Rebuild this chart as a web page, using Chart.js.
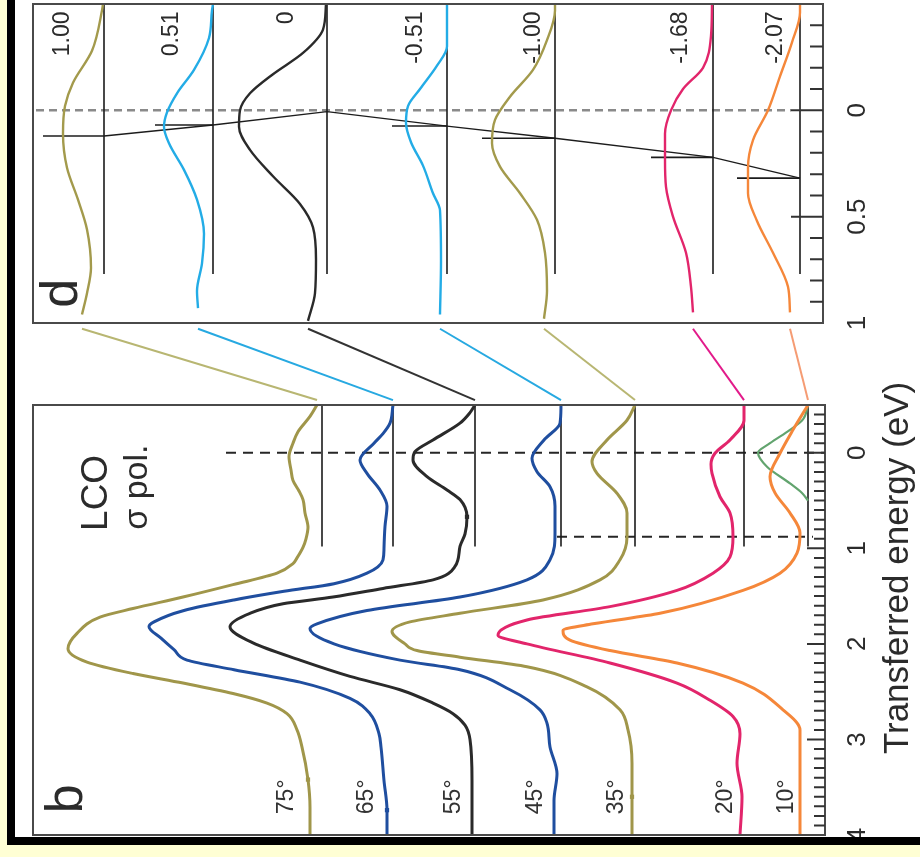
<!DOCTYPE html>
<html>
<head>
<meta charset="utf-8">
<script src="https://cdn.jsdelivr.net/npm/chart.js@4.4.1/dist/chart.umd.min.js"></script>
<style>
  html, body { margin: 0; padding: 0; background: #ffffff; }
  canvas { display: block; }
</style>
</head>
<body>
<canvas id="c" width="920" height="857"></canvas>
<script>
// RIXS spectra of LCO (sigma polarisation). Energy runs down the page,
// intensity grows to the left; every spectrum sits on its own baseline.

// ---- Panel b: incidence angles, baseline offsets (a.u.), spectra [energy eV, intensity a.u.]
const anglesB  = ['75°', '65°', '55°', '45°', '35°', '20°', '10°'];
const offsetsB = [5.03, 4.32, 3.50, 2.64, 1.90, 0.81, 0.17];

const b75 = [[-0.5,0.05],[-0.38,0.12],[-0.22,0.24],[-0.1,0.29],[0.04,0.33],[0.18,0.31],[0.29,0.29],[0.4,0.23],[0.49,0.19],[0.63,0.17],[0.78,0.14],[0.9,0.16],[0.99,0.19],[1.1,0.25],[1.16,0.29],[1.26,0.45],[1.38,0.89],[1.51,1.39],[1.63,1.89],[1.72,2.22],[1.89,2.45],[2.05,2.54],[2.19,2.35],[2.31,1.89],[2.41,1.39],[2.52,0.89],[2.62,0.55],[2.73,0.35],[2.9,0.25],[3.08,0.2],[3.42,0.14],[3.71,0.12],[4.0,0.12]];
const b65 = [[-0.5,0],[-0.31,0.03],[-0.2,0.1],[-0.1,0.19],[0.075,0.33],[0.215,0.26],[0.39,0.13],[0.56,0.06],[0.77,0.08],[1.0,0.09],[1.12,0.1],[1.26,0.26],[1.37,0.59],[1.45,1.09],[1.54,1.59],[1.65,2.09],[1.77,2.39],[1.82,2.44],[1.94,2.32],[2.06,2.19],[2.17,2.06],[2.27,1.59],[2.4,0.93],[2.57,0.43],[2.73,0.23],[2.94,0.14],[3.08,0.12],[3.43,0.09],[3.74,0.06],[4.0,0.06]];
const b55 = [[-0.5,0],[-0.42,0.05],[-0.31,0.15],[-0.134,0.42],[-0.012,0.6],[0.075,0.62],[0.25,0.48],[0.39,0.28],[0.49,0.15],[0.67,0.08],[0.85,0.1],[0.98,0.15],[1.19,0.2],[1.33,0.42],[1.42,0.92],[1.51,1.42],[1.58,1.92],[1.68,2.25],[1.82,2.45],[1.99,2.22],[2.17,1.75],[2.34,1.25],[2.48,0.75],[2.62,0.42],[2.73,0.22],[2.85,0.1],[3.0,0.05],[3.43,0.03],[3.77,0.03],[4.0,0.03]];
const b45 = [[-0.5,0],[-0.31,0.01],[-0.134,0.17],[0.058,0.29],[0.198,0.24],[0.355,0.11],[0.56,0.06],[0.84,0.06],[1.12,0.11],[1.33,0.34],[1.51,1.01],[1.65,1.94],[1.79,2.44],[1.84,2.51],[2.0,2.27],[2.17,1.61],[2.27,1.01],[2.48,0.51],[2.69,0.21],[2.83,0.14],[3.08,0.11],[3.36,0.04],[3.64,0.07],[4.0,0.07]];
const b35 = [[-0.5,0],[-0.34,0.08],[-0.134,0.28],[0.093,0.43],[0.215,0.38],[0.424,0.18],[0.63,0.08],[0.88,0.08],[1.12,0.15],[1.33,0.35],[1.54,0.92],[1.68,1.75],[1.77,2.25],[1.87,2.43],[2.0,2.3],[2.07,2.18],[2.14,1.75],[2.24,1.08],[2.45,0.48],[2.69,0.15],[2.9,0.07],[3.25,0.03],[3.6,0.03],[4.0,0.03]];
const b20 = [[-0.5,0],[-0.34,0],[-0.134,0.14],[0.005,0.29],[0.12,0.33],[0.215,0.32],[0.46,0.24],[0.63,0.14],[0.88,0.11],[1.09,0.14],[1.26,0.31],[1.44,0.67],[1.61,1.34],[1.75,2.17],[1.91,2.46],[2.0,2.17],[2.2,1.34],[2.41,0.67],[2.59,0.34],[2.76,0.11],[2.94,0.04],[3.25,0.07],[3.6,0.02],[4.0,0.04]];
const b10 = [[-0.5,0],[-0.24,0.15],[0.005,0.28],[0.25,0.38],[0.42,0.33],[0.63,0.18],[0.84,0.08],[1.05,0.11],[1.26,0.28],[1.44,0.65],[1.68,1.48],[1.79,2.15],[1.86,2.45],[1.96,2.38],[2.07,1.98],[2.2,1.31],[2.41,0.65],[2.69,0.25],[2.9,0.08],[3.25,0.08],[4.0,0.08]];
const b10elastic = [[-0.5,0],[-0.35,0.05],[-0.24,0.18],[-0.1,0.38],[0.0,0.5],[0.146,0.41],[0.32,0.18],[0.42,0.06],[0.5,0]];

// energy of the sample drawn with a square marker on some spectra
const markedB = [3.42, 3.74, 0.67, null, 3.6, null, null];

// ---- Panel d: momentum transfer, baseline offsets (a.u.), low-energy spectra
const qLabels  = ['1.00', '0.51', '0', '-0.51', '-1.00', '-1.68', '-2.07'];
const offsetsD = [7.21, 6.12, 4.98, 3.78, 2.70, 1.12, 0.25];

const dQ100  = [[-0.5,0.01],[-0.47,0.02],[-0.28,0.12],[-0.13,0.31],[-0.02,0.39],[0.11,0.41],[0.27,0.37],[0.42,0.26],[0.56,0.17],[0.74,0.13],[0.86,0.17],[0.96,0.22]];
const dQ051  = [[-0.5,0],[-0.47,0.01],[-0.34,0.04],[-0.19,0.19],[-0.08,0.36],[0.01,0.46],[0.077,0.49],[0.155,0.44],[0.28,0.29],[0.42,0.16],[0.58,0.09],[0.72,0.11],[0.85,0.16],[0.93,0.15]];
const dQ0    = [[-0.5,0.01],[-0.38,0.04],[-0.27,0.24],[-0.17,0.54],[-0.08,0.77],[0.0,0.87],[0.077,0.88],[0.186,0.77],[0.31,0.54],[0.44,0.27],[0.55,0.14],[0.7,0.11],[0.86,0.12],[0.99,0.19]];
const dQm051 = [[-0.5,0],[-0.3,0],[-0.21,0.1],[-0.1,0.27],[-0.02,0.39],[0.06,0.41],[0.15,0.36],[0.26,0.24],[0.39,0.14],[0.47,0.07],[0.71,0.06],[0.96,0.07]];
const dQm100 = [[-0.5,0],[-0.47,0],[-0.33,0.08],[-0.19,0.22],[-0.064,0.45],[0.045,0.6],[0.155,0.63],[0.265,0.55],[0.39,0.35],[0.515,0.18],[0.67,0.1],[0.85,0.08],[0.98,0.11]];
const dQm168 = [[-0.5,0.01],[-0.35,0.02],[-0.2,0.1],[-0.1,0.3],[0.0,0.42],[0.11,0.48],[0.23,0.48],[0.36,0.47],[0.5,0.4],[0.67,0.27],[0.83,0.22],[0.95,0.2]];
const dQm207 = [[-0.5,0],[-0.46,0],[-0.32,0.08],[-0.16,0.2],[0.0,0.32],[0.14,0.47],[0.27,0.52],[0.39,0.52],[0.52,0.43],[0.67,0.27],[0.83,0.12],[0.95,0.1]];

// fitted peak energy (eV) for each q and the length of its marker (a.u.)
const peakEnergy = [0.121, 0.069, 0.006, 0.074, 0.131, 0.221, 0.319];
const peakMarkLen = [0.61, 0.58, 0, 0.55, 0.73, 0.62, 0.63];

// axis labels
const tickLabelsB = ['0', '1', '2', '3', '4'];
const tickLabelsD = ['0', '0.5', '1'];

// ---- styling
const colorsB = ['#a0964a', '#1f4e9f', '#2a2a2a', '#1f4e9f', '#a0964a', '#e2256b', '#f5873a'];
const colorsD = ['#a39a4c', '#23ace6', '#2a2a2a', '#23ace6', '#a39a4c', '#e2256b', '#f5873a'];
const colorsLink = ['#b8b672', '#27a9e1', '#333333', '#27a9e1', '#b8b672', '#e21a8a', '#f59c74'];
const elasticColor = '#62a46e';

const spectraB = [b75, b65, b55, b45, b35, b20, b10];
const spectraD = [dQ100, dQ051, dQ0, dQm051, dQm100, dQm168, dQm207];

const toPts = (spec, off) => spec.map(([e, i]) => ({ x: off + i, y: e }));
const line = (data, axis, color, width, extra) => Object.assign({
  data, yAxisID: axis, borderColor: color, borderWidth: width,
  showLine: true, pointRadius: 0, tension: 0, fill: false
}, extra || {});
const smooth = { cubicInterpolationMode: 'monotone' };

const datasets = [];

// panel b spectra
spectraB.forEach((s, k) => datasets.push(line(toPts(s, offsetsB[k]), 'yb', colorsB[k], 3, Object.assign({
  pointStyle: 'rect',
  pointBackgroundColor: colorsB[k],
  pointBorderWidth: 0,
  pointRadius: c => (markedB[k] !== null && c.raw && c.raw.y === markedB[k]) ? 3 : 0
}, smooth))));
datasets.push(line(toPts(b10elastic, offsetsB[6]), 'yb', elasticColor, 2.2, smooth));
// panel b baselines
offsetsB.forEach(o => datasets.push(line([{ x: o, y: -0.5 }, { x: o, y: 0.98 }], 'yb', '#1c1c1c', 1.6)));
// panel b reference lines (E = 0 and the gap edge)
datasets.push(line([{ x: 5.99, y: 0 }, { x: 0, y: 0 }], 'yb', '#262626', 2, { borderDash: [10, 7] }));
datasets.push(line([{ x: 2.68, y: 0.88 }, { x: 0.12, y: 0.88 }], 'yb', '#262626', 2, { borderDash: [10, 7] }));

// panel d spectra
spectraD.forEach((s, k) => datasets.push(line(toPts(s, offsetsD[k]), 'yd', colorsD[k], 2.4, smooth)));
// panel d baselines
offsetsD.forEach(o => datasets.push(line([{ x: o, y: -0.5 }, { x: o, y: 0.77 }], 'yd', '#1c1c1c', 1.6)));
// peak markers and dispersion
offsetsD.forEach((o, k) => {
  if (peakMarkLen[k] > 0) {
    datasets.push(line([{ x: o, y: peakEnergy[k] }, { x: o + peakMarkLen[k], y: peakEnergy[k] }], 'yd', '#1c1c1c', 1.6));
  }
});
datasets.push(line(offsetsD.map((o, k) => ({ x: o, y: peakEnergy[k] })), 'yd', '#1c1c1c', 1.4));
datasets.push(line([{ x: 7.89, y: 0 }, { x: 0.34, y: 0 }], 'yd', '#8a8a8a', 2.5, { borderDash: [8, 5] }));

// leaders joining each q spectrum to the matching angle spectrum
spectraD.forEach((s, k) => {
  const start = offsetsD[k] + s[s.length - 1][1];
  const end = offsetsB[k] + spectraB[k][0][1];
  datasets.push(line([{ x: start, y: 0.07 }, { x: end, y: 0.94 }], 'ygap', colorsLink[k], 2));
});

const FONT = '"Liberation Sans", Arial, Helvetica, sans-serif';

function rotText(ctx, text, x, y, size, color, align) {
  ctx.save();
  ctx.translate(x, y);
  ctx.rotate(-Math.PI / 2);
  ctx.font = size + 'px ' + FONT;
  ctx.fillStyle = color;
  ctx.textAlign = align || 'center';
  ctx.textBaseline = 'alphabetic';
  ctx.fillText(text, 0, 0);
  ctx.restore();
}

const decor = {
  id: 'decor',
  beforeDraw(chart) {
    const ctx = chart.ctx;
    ctx.save();
    ctx.fillStyle = '#ffffff';
    ctx.fillRect(0, 0, chart.width, chart.height);
    ctx.restore();
  },
  afterDatasetsDraw(chart) {
    const ctx = chart.ctx;
    const { left, right } = chart.chartArea;
    const x = chart.scales.x, yd = chart.scales.yd, yb = chart.scales.yb;

    ctx.save();
    // panel frames
    ctx.strokeStyle = '#4a4a4a';
    ctx.lineWidth = 2;
    ctx.strokeRect(left, yd.top, right - left - 2, yd.bottom - yd.top);
    ctx.strokeRect(left, yb.top, right - left, yb.bottom - yb.top);

    // inward tick marks
    ctx.strokeStyle = '#333333';
    ctx.lineWidth = 2;
    ctx.beginPath();
    yb.ticks.forEach(t => {
      if (t.value <= yb.min + 1e-6 || t.value >= yb.max - 1e-6) return;
      const py = yb.getPixelForValue(t.value);
      const major = Math.abs(t.value - Math.round(t.value)) < 1e-6;
      const len = major ? 18 : 11;
      ctx.moveTo(right - len, py); ctx.lineTo(right, py);
    });
    const rd = right - 2;
    yd.ticks.forEach(t => {
      if (t.value <= yd.min + 1e-6 || t.value >= yd.max - 1e-6) return;
      const py = yd.getPixelForValue(t.value);
      const major = Math.abs(t.value * 2 - Math.round(t.value * 2)) < 1e-6;
      const len = major ? 32 : 13;
      ctx.moveTo(rd - len, py); ctx.lineTo(rd, py);
    });
    ctx.stroke();

    // tick labels
    tickLabelsB.forEach(s => rotText(ctx, s, right + 40, yb.getPixelForValue(parseFloat(s)), 26, '#2b2b2b'));
    tickLabelsD.forEach(s => rotText(ctx, s, right + 40, yd.getPixelForValue(parseFloat(s)), 26, '#2b2b2b'));

    // axis title
    rotText(ctx, 'Transferred energy (eV)', right + 83, 568, 35, '#2b2b2b');

    // angle labels (baseline positions in a.u., centred at 3.6 eV)
    const angleLabelAt = [5.32, 4.52, 3.65, 2.83, 2.02, 0.93, 0.32];
    anglesB.forEach((s, k) => rotText(ctx, s, x.getPixelForValue(angleLabelAt[k]), yb.getPixelForValue(3.6), 23, '#333333'));

    // momentum labels, right-aligned at the top of panel d
    const qLabelAt = [7.56, 6.47, 5.32, 4.03, 2.85, 1.38, 0.43];
    qLabels.forEach((s, k) => rotText(ctx, s, x.getPixelForValue(qLabelAt[k]), yd.getPixelForValue(-0.465), 23, '#2b2b2b', 'right'));

    // panel letters and sample annotation
    rotText(ctx, 'b', left + 49, yb.getPixelForValue(3.62), 52, '#2b2b2b');
    rotText(ctx, 'd', left + 44, yd.getPixelForValue(0.86), 52, '#2b2b2b');
    rotText(ctx, 'LCO', left + 74, yb.getPixelForValue(0.42), 37, '#2b2b2b');
    rotText(ctx, 'σ pol.', left + 114, yb.getPixelForValue(0.36), 34, '#2b2b2b');
    ctx.restore();
  },
  afterDraw(chart) {
    const ctx = chart.ctx;
    ctx.save();
    // page border
    ctx.fillStyle = '#ffffd4';
    ctx.fillRect(0, 0, 7, chart.height);
    ctx.fillRect(0, 845, chart.width, chart.height - 845);
    ctx.fillStyle = '#000000';
    ctx.fillRect(7, 0, 8, 845);
    ctx.fillRect(7, 837, chart.width - 7, 8);
    ctx.restore();
  }
};

const hiddenY = (weight, min, max, step) => ({
  type: 'linear', position: 'right', stack: 'energy', stackWeight: weight,
  min, max, reverse: true,
  ticks: { display: false, stepSize: step },
  grid: { display: false, drawTicks: false },
  border: { display: false }
});

new Chart(document.getElementById('c'), {
  type: 'scatter',
  data: { datasets },
  options: {
    indexAxis: 'y',
    responsive: false,
    animation: false,
    events: [],
    layout: { padding: { left: 33, right: 95, top: 4, bottom: 22 } },
    plugins: { legend: { display: false }, tooltip: { enabled: false } },
    elements: { point: { radius: 0 } },
    scales: {
      x: { type: 'linear', min: 0, max: 7.92, reverse: true, display: false },
      yd: hiddenY(319, -0.5, 1, 0.1),
      ygap: hiddenY(82, 0, 1, 0.5),
      yb: hiddenY(430, -0.5, 4, 0.1)
    }
  },
  plugins: [decor]
});
</script>
</body>
</html>
